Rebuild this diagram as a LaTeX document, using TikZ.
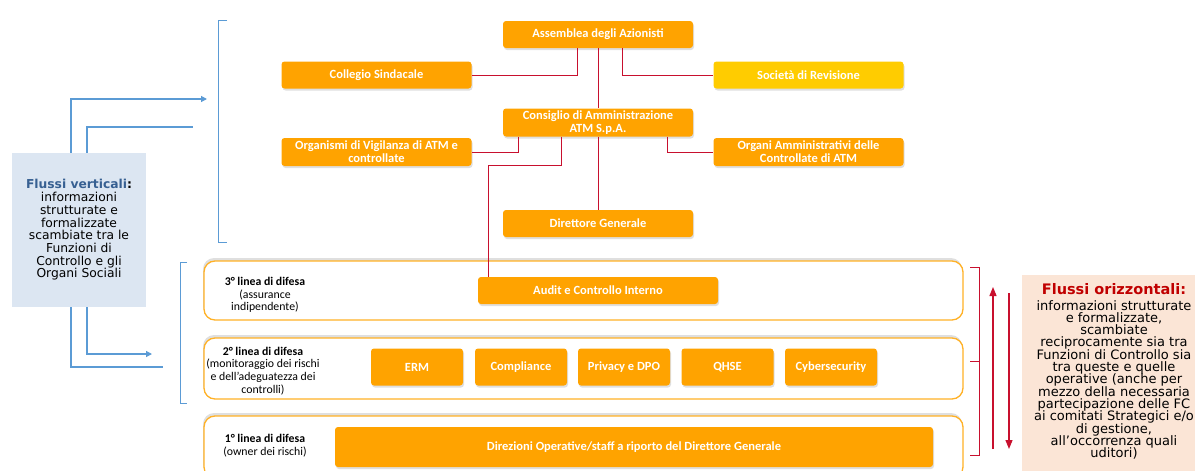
\documentclass[tikz,border=0pt]{standalone}
\usepackage{fontspec}
\setmainfont{Carlito}
\newfontfamily\flussifont{DejaVu Sans}
\usetikzlibrary{arrows.meta,shadows}

\definecolor{atmarancio}{RGB}{255,163,0}
\definecolor{atmgiallo}{RGB}{255,204,0}
\definecolor{atmrosso}{RGB}{200,16,46}
\definecolor{flussoblu}{RGB}{91,155,213}
\definecolor{boxblu}{RGB}{220,230,242}
\definecolor{titoloblu}{RGB}{55,96,146}
\definecolor{boxpesca}{RGB}{251,229,214}
\definecolor{titolorosso}{RGB}{192,0,0}

\setlength{\lineskiplimit}{-20pt}

\tikzset{
  ufficio/.style={rectangle, rounded corners=3pt, fill=atmarancio, text=white,
    font=\fontsize{12.5}{12.7}\selectfont\bfseries, align=center, inner sep=1pt,
    minimum width=190pt, minimum height=27pt,
    drop shadow={shadow xshift=1pt, shadow yshift=-2pt, opacity=0.25}},
  linea/.style={rectangle, rounded corners=11pt, draw=atmarancio!85,
    line width=1.3pt, fill=white, minimum width=759pt,
    drop shadow={shadow xshift=-1pt, shadow yshift=3pt, opacity=0.25}},
  etichetta/.style={align=center, font=\fontsize{11.8}{12.7}\selectfont},
  rosso/.style={draw=atmrosso, line width=1pt},
  blu/.style={draw=flussoblu, line width=1.2pt},
}

\begin{document}
\begin{tikzpicture}[x=1pt,y=-1pt]
    \useasboundingbox (0,0) rectangle (1195,471);

    % -- Organi sociali --
    \node[ufficio] (ass) at (598,34.5) {Assemblea degli Azionisti};
    \node[ufficio] (coll) at (376.5,75) {Collegio Sindacale};
    \node[ufficio, fill=atmgiallo] (rev) at (808.5,75) {Società di Revisione};
    \node[ufficio, minimum height=28pt] (cda) at (598,122.5) {Consiglio di Amministrazione\\ATM S.p.A.};
    \node[ufficio, minimum height=28pt] (odv) at (376.5,152) {Organismi di Vigilanza di ATM e\\controllate};
    \node[ufficio, minimum height=28pt] (oac) at (808.5,152) {Organi Amministrativi delle\\Controllate di ATM};
    \node[ufficio] (dg) at (598,223.5) {Direttore Generale};

    % -- Linee di difesa --
    \node[linea, minimum height=59pt] (l3) at (583.5,290.5) {};
    \node[linea, minimum height=61pt] (l2) at (583.5,368.5) {};
    \node[linea, minimum height=62pt] (l1) at (583.5,447) {};

    \node[etichetta] (e3) at (265,295) {\textbf{3° linea di difesa}\\(assurance\\indipendente)};
    \node[etichetta] (e2) at (263,371) {\textbf{2° linea di difesa}\\(monitoraggio dei rischi\\e dell'adeguatezza dei\\controlli)};
    \node[etichetta] (e1) at (265,445.5) {\textbf{1° linea di difesa}\\(owner dei rischi)};

    % -- Funzioni di controllo --
    \node[ufficio, minimum width=240pt] (audit) at (598,290.5) {Audit e Controllo Interno};
    \node[ufficio, minimum width=92pt, minimum height=37pt] (erm) at (417,367) {ERM};
    \node[ufficio, minimum width=92pt, minimum height=37pt] (comp) at (521,367) {Compliance};
    \node[ufficio, minimum width=92pt, minimum height=37pt] (priv) at (624,367) {Privacy e DPO};
    \node[ufficio, minimum width=92pt, minimum height=37pt] (qhse) at (727.5,367) {QHSE};
    \node[ufficio, minimum width=92pt, minimum height=37pt] (cyber) at (831,367) {Cybersecurity};
    \node[ufficio, minimum width=598pt, minimum height=40pt] (dir) at (634,447) {Direzioni Operative/staff a riporto del Direttore Generale};

    % -- Collegamenti --
    \draw[rosso] ([xshift=-21pt]ass.south) |- (coll.east);
    \draw[rosso] ([xshift=24pt]ass.south) |- (rev.west);
    \draw[rosso] (ass.south) -- (cda.north);
    \draw[rosso] (cda.south) -- (dg.north);
    \draw[rosso] ([xshift=-80pt]cda.south) |- (odv.east);
    \draw[rosso] ([xshift=69pt]cda.south) |- (oac.west);
    \draw[rosso] ([xshift=-37pt]cda.south) -- ++(0,29) -| ([xshift=-110pt]audit.north);

    % -- Flussi verticali --
    \node[fill=boxblu, minimum width=134pt, minimum height=154pt, inner sep=0pt, align=center,
          font=\flussifont\fontsize{12.3}{12.7}\selectfont] (vert) at (79,230)
         {{\color{titoloblu}\textbf{Flussi verticali}}\textbf{:}\\informazioni\\strutturate e\\formalizzate\\scambiate tra le\\Funzioni di\\Controllo e gli\\Organi Sociali};

    \coordinate (vsu) at (207,99);
    \coordinate (vsu2) at (193,127);
    \coordinate (vgiu) at (152,354);
    \coordinate (vgiu2) at (163,367);
    \draw[blu, -{Triangle[width=6pt,length=6pt]}] ([xshift=-8pt]vert.north) |- (vsu);
    \draw[blu] ([xshift=8pt]vert.north) |- (vsu2);
    \draw[blu, -{Triangle[width=6pt,length=6pt]}] ([xshift=8pt]vert.south) |- (vgiu);
    \draw[blu] ([xshift=-8pt]vert.south) |- (vgiu2);

    % -- Parentesi --
    \draw[blu, line width=1pt] (227,20) -- (218,20) -- (218,242) -- (227,242);
    \draw[blu, line width=1pt] (187,262) -- (180,262) -- (180,403) -- (187,403);
    \draw[rosso] (970,267) -- (979,267) -- (979,455) -- (970,455);
    \draw[rosso] (970,361) -- (979,361);

    % -- Flussi orizzontali --
    \draw[rosso, line width=1.2pt, -{Triangle[width=7pt,length=9pt]}] (993,449) -- (993,287);
    \draw[rosso, line width=1.2pt, -{Triangle[width=7pt,length=9pt]}] (1009,293) -- (1009,449);
    \fill[boxpesca] (1022,275) rectangle (1200,475);
    \node[anchor=north, inner sep=0pt, align=center,
          font=\flussifont\fontsize{13}{12.3}\selectfont] (oriz) at (1114,283)
         {{\color{titolorosso}\fontsize{14.5}{15}\selectfont\textbf{Flussi orizzontali:}}\\[3.5pt]
          informazioni strutturate\\e formalizzate,\\scambiate\\reciprocamente sia tra\\Funzioni di Controllo sia\\tra queste e quelle\\operative (anche per\\mezzo della necessaria\\partecipazione delle FC\\ai comitati Strategici e/o\\di gestione,\\all’occorrenza quali\\uditori)};
\end{tikzpicture}
\end{document}
